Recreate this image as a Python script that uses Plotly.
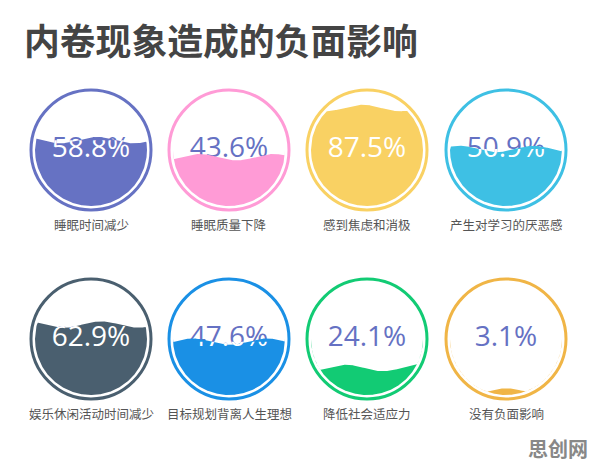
import numpy as np
import plotly.graph_objects as go

W, H = 596, 466

title = "内卷现象造成的负面影响"
labels = ["睡眠时间减少", "睡眠质量下降", "感到焦虑和消极", "产生对学习的厌恶感",
          "娱乐休闲活动时间减少", "目标规划背离人生理想", "降低社会适应力", "没有负面影响"]
values = [58.8, 43.6, 87.5, 50.9, 62.9, 47.6, 24.1, 3.1]
colors = ["#6672C3", "#FF9BD6", "#F9D163", "#3EC0E4",
          "#4A5F6F", "#1A90E5", "#12CB74", "#F0B546"]
watermark = "思创网"

# styling
col_x = [91, 229, 367, 506]
row_y = [150, 339]
phases = [-2.1, 0.9, -1.2, 2.4, -2.4, 1.5, 0.2, -1.57]
R_RING = 60
R_FILL = 56
AMP = 3.2
WAVELEN = 74
TEXT_OUT = "#6571C3"
CJK = "Noto Sans CJK SC"
NUM_FONT = "Open Sans"

fig = go.Figure()
shapes = []
annotations = []
layout_axes = {}

for i, (lab, v, c) in enumerate(zip(labels, values, colors)):
    cx = col_x[i % 4]
    cy = row_y[i // 4]
    # outer ring
    shapes.append(dict(type="circle", xref="x", yref="y",
                       x0=cx - R_RING, x1=cx + R_RING, y0=cy - R_RING, y1=cy + R_RING,
                       line=dict(color=c, width=3), fillcolor="rgba(0,0,0,0)"))
    level_y = cy + R_FILL - 2 * R_FILL * v / 100.0
    anchor_y = cy + 14
    txt = f"{v:.1f}%"
    # text above water (covered by water later)
    fig.add_trace(go.Scatter(x=[cx], y=[anchor_y], mode="text", text=[txt],
                             textposition="top center",
                             textfont=dict(size=28, color=TEXT_OUT, family=NUM_FONT),
                             hoverinfo="skip", showlegend=False, xaxis="x", yaxis="y"))
    # water
    xs = np.linspace(cx - R_FILL, cx + R_FILL, 241)
    half = np.sqrt(np.clip(R_FILL ** 2 - (xs - cx) ** 2, 0, None))
    top_c = cy - half
    bot = cy + half
    wave = level_y + AMP * np.sin(2 * np.pi * (xs - cx) / WAVELEN + phases[i])
    top = np.minimum(np.maximum(wave, top_c), bot)
    px = np.concatenate([xs, xs[::-1]])
    py = np.concatenate([top, bot[::-1]])
    fig.add_trace(go.Scatter(x=px, y=py, mode="lines", fill="toself", fillcolor=c,
                             line=dict(width=0, color=c), hoverinfo="skip",
                             showlegend=False, xaxis="x", yaxis="y"))
    # white text clipped to below water level
    ya = f"y{i + 2}"
    layout_axes[f"yaxis{i + 2}"] = dict(domain=[0, (H - level_y) / H], range=[H, level_y],
                                        anchor="x", visible=False, fixedrange=True)
    fig.add_trace(go.Scatter(x=[cx], y=[anchor_y], mode="text", text=[txt],
                             textposition="top center", cliponaxis=True,
                             textfont=dict(size=28, color="white", family=NUM_FONT),
                             hoverinfo="skip", showlegend=False, xaxis="x", yaxis=ya))
    # label
    annotations.append(dict(x=cx, y=cy + 74, xref="x", yref="y", text=lab, showarrow=False,
                            font=dict(size=12.5, color="#555555", family=CJK),
                            xanchor="center", yanchor="middle"))

annotations.append(dict(x=22 / W, y=1 - 39 / H, xref="paper", yref="paper", text=title,
                        showarrow=False, xanchor="left", yanchor="middle",
                        font=dict(size=35.8, color="#444444", family=CJK, weight="bold")))
annotations.append(dict(x=590 / W, y=1 - 448 / H, xref="paper", yref="paper", text=watermark,
                        showarrow=False, xanchor="right", yanchor="middle",
                        font=dict(size=20, color="#888888", family=CJK, weight="bold")))

fig.update_layout(
    width=W, height=H, margin=dict(l=0, r=0, t=0, b=0),
    paper_bgcolor="white", plot_bgcolor="rgba(0,0,0,0)",
    xaxis=dict(range=[0, W], domain=[0, 1], visible=False, fixedrange=True),
    yaxis=dict(range=[H, 0], domain=[0, 1], visible=False, fixedrange=True),
    shapes=shapes, annotations=annotations, **layout_axes,
)

fig.write_html("out.html", config={"displayModeBar": False},
               post_script="document.body.style.margin='0';")
